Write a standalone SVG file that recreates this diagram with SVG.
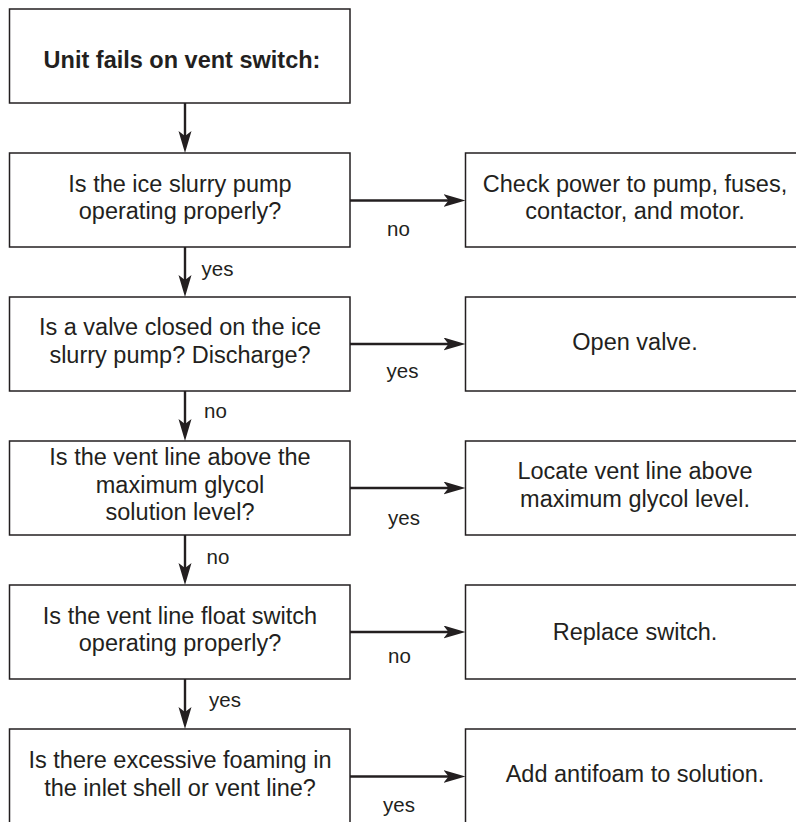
<svg xmlns="http://www.w3.org/2000/svg" width="796" height="822" viewBox="0 0 796 822">
  <style>
    .box { fill: #ffffff; stroke: #231f20; stroke-width: 1.5; }
    .txt { font-family: "Liberation Sans", Arial, Helvetica, sans-serif; font-size: 23.5px; fill: #231f20; text-anchor: middle; }
    .title { font-weight: bold; }
    .lbl { font-family: "Liberation Sans", Arial, Helvetica, sans-serif; font-size: 20.5px; fill: #231f20; }
    .con { fill: none; stroke: #231f20; stroke-width: 2.4; marker-end: url(#head); }
  </style>
  <defs>
    <marker id="head" markerUnits="userSpaceOnUse" markerWidth="24" markerHeight="14" refX="9" refY="6.5" orient="auto">
      <path d="M0,0 L22,6.5 L0,13 L5,6.5 Z" fill="#231f20"/>
    </marker>
  </defs>
  <rect width="796" height="822" fill="#ffffff"/>

  <!-- decision column -->
  <g id="start">
    <rect class="box" x="9.5" y="9" width="340.5" height="94"/>
    <text class="txt title" x="182" y="68">Unit fails on vent switch:</text>
  </g>
  <g id="q-pump">
    <rect class="box" x="9.5" y="153" width="340.5" height="94"/>
    <text class="txt" x="180" y="191.5">Is the ice slurry pump</text>
    <text class="txt" x="180" y="219">operating properly?</text>
  </g>
  <g id="q-valve">
    <rect class="box" x="9.5" y="297" width="340.5" height="94"/>
    <text class="txt" x="180" y="335">Is a valve closed on the ice</text>
    <text class="txt" x="180" y="362.5">slurry pump? Discharge?</text>
  </g>
  <g id="q-vent-level">
    <rect class="box" x="9.5" y="441" width="340.5" height="94"/>
    <text class="txt" x="180" y="465">Is the vent line above the</text>
    <text class="txt" x="180" y="492.5">maximum glycol</text>
    <text class="txt" x="180" y="520">solution level?</text>
  </g>
  <g id="q-float">
    <rect class="box" x="9.5" y="585" width="340.5" height="94"/>
    <text class="txt" x="180" y="623.5">Is the vent line float switch</text>
    <text class="txt" x="180" y="650.5">operating properly?</text>
  </g>
  <g id="q-foam">
    <rect class="box" x="9.5" y="729" width="340.5" height="110"/>
    <text class="txt" x="180" y="768">Is there excessive foaming in</text>
    <text class="txt" x="180" y="796">the inlet shell or vent line?</text>
  </g>

  <!-- action column -->
  <g id="a-power">
    <rect class="box" x="465.5" y="153" width="345" height="94"/>
    <text class="txt" x="635" y="191.5">Check power to pump, fuses,</text>
    <text class="txt" x="635" y="219">contactor, and motor.</text>
  </g>
  <g id="a-open">
    <rect class="box" x="465.5" y="297" width="345" height="94"/>
    <text class="txt" x="635" y="350">Open valve.</text>
  </g>
  <g id="a-locate">
    <rect class="box" x="465.5" y="441" width="345" height="94"/>
    <text class="txt" x="635" y="479">Locate vent line above</text>
    <text class="txt" x="635" y="506.5">maximum glycol level.</text>
  </g>
  <g id="a-replace">
    <rect class="box" x="465.5" y="585" width="345" height="94"/>
    <text class="txt" x="635" y="639.5">Replace switch.</text>
  </g>
  <g id="a-antifoam">
    <rect class="box" x="465.5" y="729" width="345" height="110"/>
    <text class="txt" x="635" y="781.5">Add antifoam to solution.</text>
  </g>

  <!-- connectors -->
  <g id="connectors">
    <path class="con" d="M185,103 V140"/>
    <path class="con" d="M185,247 V284"/>
    <path class="con" d="M185,391 V428"/>
    <path class="con" d="M185,535 V572"/>
    <path class="con" d="M185,679 V716"/>

    <path class="con" d="M350,200.5 H452.5"/>
    <path class="con" d="M350,344 H452.5"/>
    <path class="con" d="M350,488 H452.5"/>
    <path class="con" d="M350,632 H452.5"/>
    <path class="con" d="M350,776.5 H452.5"/>

    <text class="lbl" x="201.5" y="275.5">yes</text>
    <text class="lbl" x="204" y="418">no</text>
    <text class="lbl" x="206.5" y="564">no</text>
    <text class="lbl" x="209" y="707">yes</text>

    <text class="lbl" x="387" y="236">no</text>
    <text class="lbl" x="386.5" y="378">yes</text>
    <text class="lbl" x="388" y="525">yes</text>
    <text class="lbl" x="388" y="663">no</text>
    <text class="lbl" x="383" y="811.5">yes</text>
  </g>
</svg>
